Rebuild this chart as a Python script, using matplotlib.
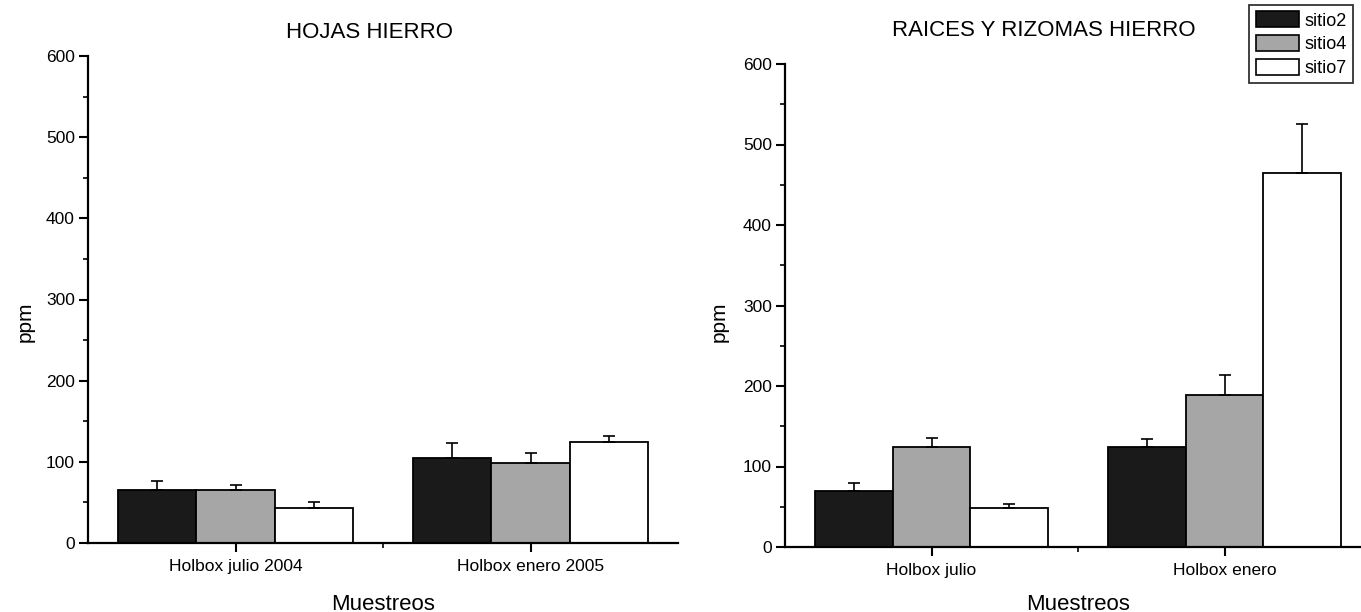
import numpy as np
import matplotlib
matplotlib.use("Agg")
import matplotlib.pyplot as plt
from matplotlib.patches import Patch
from matplotlib.ticker import MultipleLocator, FixedLocator

plt.rcParams['font.family'] = ['Liberation Sans', 'DejaVu Sans']

sitios = ['sitio2', 'sitio4', 'sitio7']
colores = ['#1a1a1a', '#a6a6a6', 'white']

# hojas
hojas_cat = ['Holbox julio 2004', 'Holbox enero 2005']
hojas = [[65, 105],   # sitio2
         [65, 99],    # sitio4
         [43, 124]]   # sitio7
hojas_err = [[11, 18],
             [7, 12],
             [7, 8]]

# raices y rizomas
raices_cat = ['Holbox julio', 'Holbox enero']
raices = [[70, 124],
          [124, 189],
          [48, 465]]
raices_err = [[10, 10],
              [11, 25],
              [6, 60]]

fig = plt.figure(figsize=(13.61, 6.12), dpi=100)
ax1 = fig.add_axes([88 / 1361, 1 - 543 / 612, 590 / 1361, 487 / 612])
ax2 = fig.add_axes([785 / 1361, 1 - 547 / 612, 586 / 1361, 483 / 612])


def barras(ax, cats, vals, errs):
    x = np.arange(1, len(cats) + 1)
    w = 0.265
    for i in range(3):
        pos = x + (i - 1) * w
        ax.bar(pos, vals[i], w, color=colores[i], edgecolor='black',
               linewidth=1.3, zorder=2)
        ax.errorbar(pos, vals[i], yerr=[np.zeros(len(x)), errs[i]],
                    fmt='none', ecolor='black', elinewidth=1.2,
                    capsize=4, capthick=1.2, zorder=3)
    ax.set_xlim(0.5, 2.5)
    ax.set_ylim(0, 600)
    ax.set_xticks(x)
    ax.set_xticklabels(cats, fontsize=12)
    ax.xaxis.set_minor_locator(FixedLocator([1.5]))
    ax.yaxis.set_major_locator(MultipleLocator(100))
    ax.yaxis.set_minor_locator(MultipleLocator(50))
    ax.tick_params(axis='both', which='major', length=6.5, width=1.5,
                   direction='out', labelsize=12.5)
    ax.tick_params(axis='both', which='minor', length=3.5, width=1.2,
                   direction='out')
    ax.tick_params(axis='x', pad=5)
    ax.tick_params(axis='y', pad=3)
    for s in ['top', 'right']:
        ax.spines[s].set_visible(False)
    for s in ['left', 'bottom']:
        ax.spines[s].set_linewidth(1.6)


barras(ax1, hojas_cat, hojas, hojas_err)
barras(ax2, raices_cat, raices, raices_err)

fig.text(370 / 1361, 1 - 32 / 612, 'HOJAS HIERRO', ha='center', va='center',
         fontsize=16)
fig.text(1044 / 1361, 1 - 31 / 612, 'RAICES Y RIZOMAS HIERRO', ha='center',
         va='center', fontsize=16)
fig.text(383 / 1361, 1 - 604 / 612, 'Muestreos', ha='center', va='center',
         fontsize=16)
fig.text(1078 / 1361, 1 - 604 / 612, 'Muestreos', ha='center', va='center',
         fontsize=16)
fig.text(25 / 1361, 1 - 322 / 612, 'ppm', ha='center', va='center',
         rotation=90, fontsize=15)
fig.text(719 / 1361, 1 - 322 / 612, 'ppm', ha='center', va='center',
         rotation=90, fontsize=15)

handles = [Patch(facecolor=c, edgecolor='black', linewidth=1.2) for c in colores]
leg = fig.legend(handles, sitios, loc='upper right',
                 bbox_to_anchor=(1353 / 1361, 1 - 5 / 612), fontsize=13,
                 frameon=True, fancybox=False, edgecolor='black',
                 handlelength=2.4, handleheight=1.0, handletextpad=0.3,
                 labelspacing=0.3, borderpad=0.35, borderaxespad=0)
leg.get_frame().set_linewidth(1.3)

fig.savefig('out.png', dpi=100, facecolor='white')
